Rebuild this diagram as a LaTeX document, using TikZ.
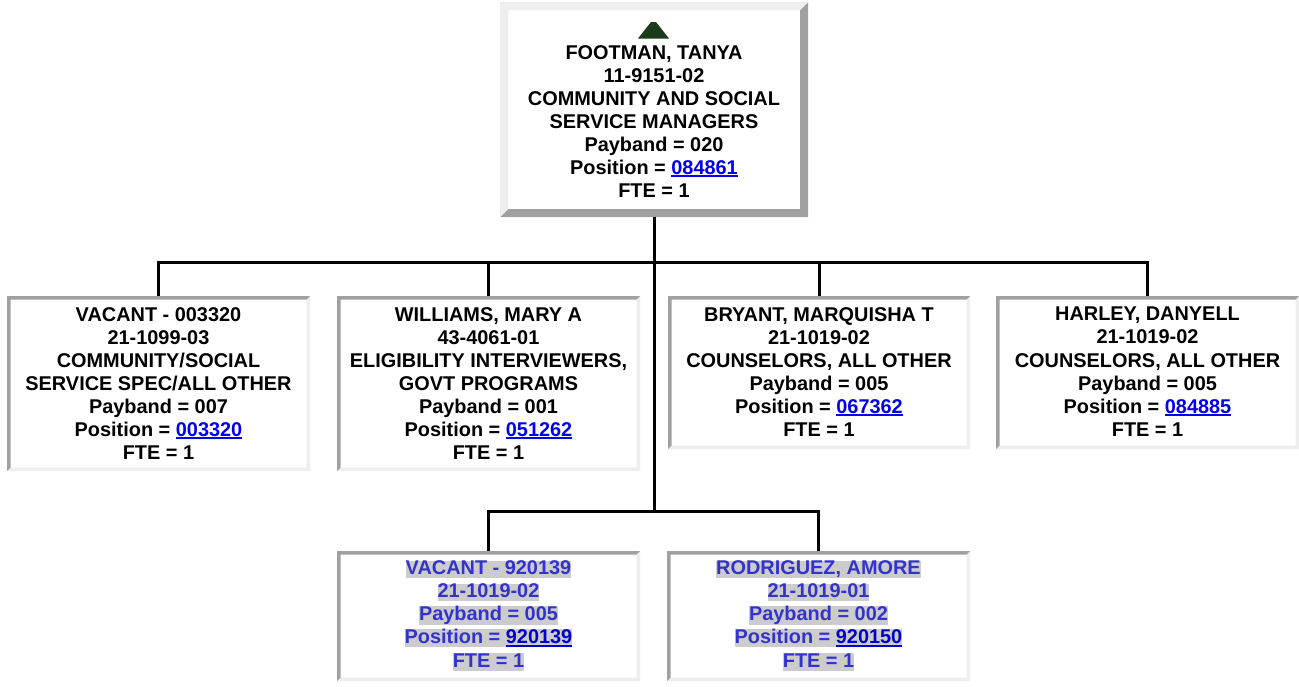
\documentclass[tikz,border=0pt]{standalone}
\usepackage{fontspec}
\setmainfont{Liberation Sans}
\definecolor{lgray}{HTML}{EEEEEE}
\definecolor{dgray}{HTML}{A0A0A0}
\definecolor{lnkblue}{HTML}{0000EE}
\definecolor{lnkdark}{HTML}{0000CC}
\definecolor{subblue}{HTML}{3333CC}
\definecolor{hl}{HTML}{CCCCCC}
\definecolor{tri}{HTML}{1B3B1B}
\setlength{\fboxsep}{0pt}
\newcommand\lnk[2][lnkblue]{{\color{#1}\setbox0\hbox{#2}\rlap{\rule[-2.6pt]{\wd0}{1.8pt}}\box0}}
\newcommand\hlline[1]{\colorbox{hl}{\rule[-3.5pt]{0pt}{16.5pt}#1}}
% bevel: #1 node, #2 width, #3 top-left colour, #4 bottom-right colour
\newcommand\bevel[4]{%
  \fill[#4] (#1.north east) -- (#1.south east) -- (#1.south west)
    -- ([shift={(#2,#2)}]#1.south west) -- ([shift={(-#2,#2)}]#1.south east)
    -- ([shift={(-#2,-#2)}]#1.north east) -- cycle;
  \fill[#3] (#1.north east) -- (#1.north west) -- (#1.south west)
    -- ([shift={(#2,#2)}]#1.south west) -- ([shift={(#2,-#2)}]#1.north west)
    -- ([shift={(-#2,-#2)}]#1.north east) -- cycle;}
\tikzset{
  box/.style={inner sep=0pt, outer sep=0pt, fill=white, rectangle},
  txt/.style={font=\bfseries\fontsize{19.9}{23.1}\selectfont, align=center, inner sep=0pt, anchor=north},
  conn/.style={line width=3pt, black},
}
\begin{document}
\begin{tikzpicture}[x=1pt,y=-1pt]
\useasboundingbox[fill=white] (0,0) rectangle (1299,686);
% boxes
\node[box, minimum width=308pt, minimum height=215pt] (top) at (654,109.5) {};
\node[box, minimum width=303pt, minimum height=175pt] (b1) at (158.5,383.5) {};
\node[box, minimum width=303pt, minimum height=175pt] (b2) at (488.5,383.5) {};
\node[box, minimum width=302pt, minimum height=153pt] (b3) at (819,372.5) {};
\node[box, minimum width=303pt, minimum height=153pt] (b4) at (1147.5,372.5) {};
\node[box, minimum width=303pt, minimum height=130pt] (b5) at (488.5,616) {};
\node[box, minimum width=303pt, minimum height=130pt] (b6) at (818.5,616) {};
\bevel{top}{8pt}{lgray}{dgray}
\bevel{b1}{3.5pt}{dgray}{lgray}
\bevel{b2}{3.5pt}{dgray}{lgray}
\bevel{b3}{3.5pt}{dgray}{lgray}
\bevel{b4}{3.5pt}{dgray}{lgray}
\bevel{b5}{3.5pt}{dgray}{lgray}
\bevel{b6}{3.5pt}{dgray}{lgray}
% connectors
\coordinate (bus1) at (654,262);
\coordinate (bus2) at (654,511);
\draw[conn] (top.south) -- (bus2);
\draw[conn] (b1.north) -- (b1.north |- bus1) -- (b4.north |- bus1) -- (b4.north);
\draw[conn] (b2.north) -- (b2.north |- bus1);
\draw[conn] (b3.north) -- (b3.north |- bus1);
\draw[conn] (b5.north) -- (b5.north |- bus2) -- (b6.north |- bus2) -- (b6.north);
% up triangle
\fill[tri] (638,38.5) -- (651,22) -- (656,22) -- (669,38.5) -- cycle;
% texts
\node[txt] (t0) at (654,45) {FOOTMAN, TANYA\\11-9151-02\\COMMUNITY AND SOCIAL\\SERVICE MANAGERS\\Payband = 020\\Position = \lnk{084861}\\FTE = 1};
\node[txt] (t1) at (158.5,307) {VACANT - 003320\\21-1099-03\\COMMUNITY/SOCIAL\\SERVICE SPEC/ALL OTHER\\Payband = 007\\Position = \lnk{003320}\\FTE = 1};
\node[txt] (t2) at (488.5,307) {WILLIAMS, MARY A\\43-4061-01\\ELIGIBILITY INTERVIEWERS,\\GOVT PROGRAMS\\Payband = 001\\Position = \lnk{051262}\\FTE = 1};
\node[txt] (t3) at (819,307) {BRYANT, MARQUISHA T\\21-1019-02\\COUNSELORS, ALL OTHER\\Payband = 005\\Position = \lnk{067362}\\FTE = 1};
\node[txt] (t4) at (1147.5,307) {HARLEY, DANYELL\\21-1019-02\\COUNSELORS, ALL OTHER\\Payband = 005\\Position = \lnk{084885}\\FTE = 1};
\node[txt, text=subblue] (t5) at (488.5,560.5) {\hlline{VACANT - 920139}\\\hlline{21-1019-02}\\\hlline{Payband = 005}\\\hlline{Position = \lnk[lnkdark]{920139}}\\\hlline{FTE = 1}};
\node[txt, text=subblue] (t6) at (818.5,560.5) {\hlline{RODRIGUEZ, AMORE}\\\hlline{21-1019-01}\\\hlline{Payband = 002}\\\hlline{Position = \lnk[lnkdark]{920150}}\\\hlline{FTE = 1}};
\end{tikzpicture}
\end{document}
